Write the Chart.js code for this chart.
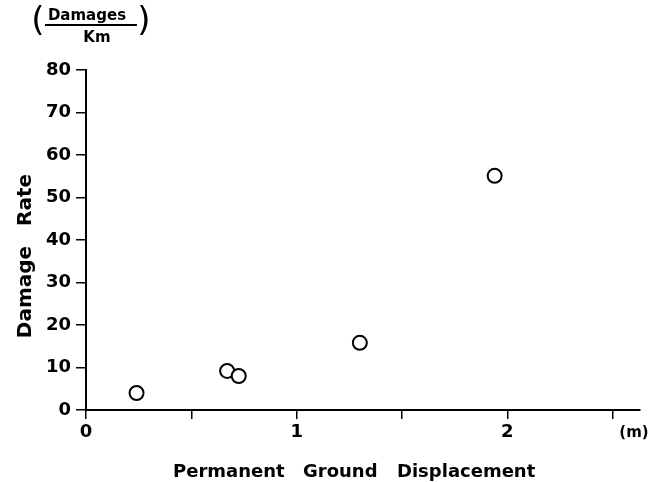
<!DOCTYPE html>
<html>
<head>
<meta charset="utf-8">
<script src="https://cdn.jsdelivr.net/npm/chart.js@4/dist/chart.umd.min.js"></script>
<style>
  body { margin: 0; background: #fff; }
  canvas { display: block; }
</style>
</head>
<body>
<canvas id="damageChart" width="664" height="482"></canvas>
<script>
// data
const displacement = [0.24, 0.67, 0.725, 1.30, 1.94];
const damageRate = [4.0, 9.2, 8.0, 15.8, 55.1];
const xTickValues = [0, 0.5, 1, 1.5, 2, 2.5];
const xTitleWords = ['Permanent', 'Ground', 'Displacement'];
const yTitleWords = ['Damage', 'Rate'];
const unitTop = 'Damages';
const unitBottom = 'Km';
const xUnit = '(m)';

const FONT = "'DejaVu Sans', sans-serif";

const labelsPlugin = {
    id: 'labels',
    afterDraw(chart) {
        const ctx = chart.ctx;
        ctx.save();
        ctx.fillStyle = '#000';
        ctx.strokeStyle = '#000';

        // x title, word by word
        ctx.font = 'bold 18px ' + FONT;
        ctx.textAlign = 'left';
        ctx.textBaseline = 'alphabetic';
        const wordX = [173, 303, 397];
        xTitleWords.forEach((w, i) => ctx.fillText(w, wordX[i], 477));

        // (m) at the end of the x axis
        ctx.font = 'bold 15px ' + FONT;
        ctx.textAlign = 'center';
        ctx.textBaseline = 'middle';
        ctx.fillText(xUnit, 634, 433);

        // y title, rotated, word by word
        ctx.save();
        ctx.translate(26, 0);
        ctx.rotate(-Math.PI / 2);
        ctx.font = 'bold 20px ' + FONT;
        ctx.textAlign = 'center';
        ctx.textBaseline = 'middle';
        ctx.fillText(yTitleWords[0], -292, 0);
        ctx.fillText(yTitleWords[1], -200, 0);
        ctx.restore();

        // unit fraction in the top left corner
        ctx.font = 'bold 15px ' + FONT;
        ctx.textAlign = 'center';
        ctx.textBaseline = 'alphabetic';
        ctx.fillText(unitTop, 87, 20);
        ctx.fillText(unitBottom, 97, 42);
        ctx.lineWidth = 2;
        ctx.beginPath();
        ctx.moveTo(45, 25);
        ctx.lineTo(137, 25);
        ctx.stroke();
        ctx.font = '34px ' + FONT;
        ctx.textBaseline = 'middle';
        ctx.fillText('(', 38, 22);
        ctx.fillText(')', 144, 22);

        ctx.restore();
    }
};

new Chart(document.getElementById('damageChart'), {
    type: 'scatter',
    data: {
        datasets: [{
            data: displacement.map((x, i) => ({ x: x, y: damageRate[i] })),
            pointStyle: 'circle',
            pointRadius: 7,
            pointHoverRadius: 7,
            pointBorderWidth: 2,
            pointBackgroundColor: '#fff',
            pointBorderColor: '#000',
            clip: false
        }]
    },
    options: {
        responsive: false,
        animation: false,
        devicePixelRatio: 1,
        layout: { padding: { top: 70, right: 24, left: 0, bottom: 0 } },
        plugins: {
            legend: { display: false },
            tooltip: { enabled: false }
        },
        scales: {
            x: {
                type: 'linear',
                min: 0,
                max: 2.63,
                afterBuildTicks: (scale) => {
                    scale.ticks = xTickValues.map(v => ({ value: v }));
                },
                afterFit: (scale) => { scale.height = 72; },
                grid: {
                    drawOnChartArea: false,
                    drawTicks: true,
                    tickLength: 9,
                    color: '#000',
                    lineWidth: 1.5
                },
                border: { color: '#000', width: 2 },
                ticks: {
                    color: '#000',
                    font: { family: FONT, size: 18, weight: 'bold' },
                    padding: 3,
                    maxRotation: 0,
                    callback: (v) => (Number.isInteger(v) ? String(v) : '')
                }
            },
            y: {
                min: 0,
                max: 80,
                afterFit: (scale) => { scale.width = 86; },
                grid: {
                    drawOnChartArea: false,
                    drawTicks: true,
                    tickLength: 10,
                    color: '#000',
                    lineWidth: 1.5
                },
                border: { color: '#000', width: 2 },
                ticks: {
                    stepSize: 10,
                    color: '#000',
                    font: { family: FONT, size: 18, weight: 'bold' },
                    padding: 5
                }
            }
        }
    },
    plugins: [labelsPlugin]
});
</script>
</body>
</html>
